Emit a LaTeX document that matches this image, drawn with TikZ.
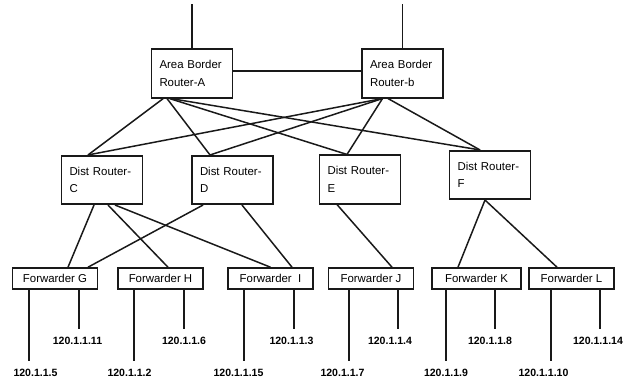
\documentclass[tikz,border=0pt]{standalone}
\usepackage{fontspec}
\setmainfont{Liberation Sans}
\usepackage{tikz}
\usetikzlibrary{positioning}

\begin{document}
\begin{tikzpicture}[
    link/.style={draw=black!90, line width=1.7pt},
    router/.style={draw=black!90, line width=1.8pt, minimum width=3.24cm, minimum height=1.94cm, text width=2.6cm, align=left, font=\fontsize{13}{20}\selectfont},
    fwd/.style={draw=black!90, line width=1.8pt, minimum width=3.4cm, minimum height=0.84cm, inner sep=1pt, font=\fontsize{13}{15}\selectfont},
    iplab/.style={below=8pt, inner sep=1pt, font=\fontsize{12}{14}\selectfont\bfseries}
]
    \useasboundingbox (0,0) rectangle (25,15.24);

    % Routers de borde
    \node[router] (abra) at (7.68,12.30) {Area Border\\Router-A};
    \node[router] (abrb) at (16.10,12.30) {Area Border\\Router-b};
    \coordinate[above=1.76cm of abra.north] (upa);
    \coordinate[above=1.76cm of abrb.north] (upb);
    \draw[link] (abra.north) -- (upa);
    \draw[link] (abrb.north) -- (upb);
    \draw[link] ([yshift=0.1cm]abra.east) -- ([yshift=0.1cm]abrb.west);

    % Routers de distribución
    \node[router] (distc) at (4.08,8.04) {Dist Router-\\C};
    \node[router] (distd) at (9.30,8.04) {Dist Router-\\D};
    \node[router] (diste) at (14.40,8.06) {Dist Router-\\E};
    \node[router] (distf) at (19.60,8.24) {Dist Router-\\F};

    \draw[link] ([xshift=-1.15cm]abra.south) -- ([xshift=-0.56cm]distc.north);
    \draw[link] ([xshift=-1.0cm]abra.south) -- ([xshift=-0.9cm]distd.north);
    \draw[link] ([xshift=-0.9cm]abra.south) -- ([xshift=-0.52cm]diste.north);
    \draw[link] ([xshift=-0.85cm]abra.south) -- ([xshift=-0.4cm]distf.north);
    \draw[link] ([xshift=-0.8cm]abrb.south) -- ([xshift=-0.56cm]distc.north);
    \draw[link] ([xshift=-0.8cm]abrb.south) -- ([xshift=-0.9cm]distd.north);
    \draw[link] ([xshift=-0.8cm]abrb.south) -- ([xshift=-0.52cm]diste.north);
    \draw[link] ([xshift=-0.58cm]abrb.south) -- ([xshift=-0.4cm]distf.north);

    % Forwarders
    \node[fwd] (fwdg) at (2.20,4.10) {Forwarder G};
    \node[fwd] (fwdh) at (6.42,4.10) {Forwarder H};
    \node[fwd] (fwdi) at (10.82,4.10) {Forwarder~~I};
    \node[fwd] (fwdj) at (14.84,4.10) {Forwarder J};
    \node[fwd, minimum width=3.56cm] (fwdk) at (19.06,4.10) {Forwarder K};
    \node[fwd] (fwdl) at (22.86,4.10) {Forwarder L};

    \draw[link] ([xshift=-0.32cm]distc.south) -- ([xshift=0.52cm]fwdg.north);
    \draw[link] ([xshift=0.24cm]distc.south) -- ([xshift=0.3cm]fwdh.north);
    \draw[link] ([xshift=0.52cm]distc.south) -- (fwdi.north);
    \draw[link] ([xshift=-1.18cm]distd.south) -- ([xshift=1.32cm]fwdg.north);
    \draw[link] ([xshift=0.38cm]distd.south) -- ([xshift=0.86cm]fwdi.north);
    \draw[link] ([xshift=-0.92cm]diste.south) -- ([xshift=0.84cm]fwdj.north);
    \draw[link] ([xshift=-0.2cm]distf.south) -- ([xshift=-0.74cm]fwdk.north);
    \draw[link] ([xshift=-0.2cm]distf.south) -- ([xshift=-0.58cm]fwdl.north);

    % Direcciones
    \draw[link] ([xshift=-1.04cm]fwdg.south) -- ++(0,-2.84) node[iplab, xshift=0.26cm] (ip5) {120.1.1.5};
    \draw[link] ([xshift=0.96cm]fwdg.south) -- ++(0,-1.56) node[iplab, xshift=-0.06cm] (ip11) {120.1.1.11};
    \draw[link] ([xshift=-1.06cm]fwdh.south) -- ++(0,-2.84) node[iplab, xshift=-0.18cm] (ip2) {120.1.1.2};
    \draw[link] ([xshift=0.94cm]fwdh.south) -- ++(0,-1.56) node[iplab] (ip6) {120.1.1.6};
    \draw[link] ([xshift=-1.06cm]fwdi.south) -- ++(0,-2.84) node[iplab, xshift=-0.22cm] (ip15) {120.1.1.15};
    \draw[link] ([xshift=0.94cm]fwdi.south) -- ++(0,-1.56) node[iplab, xshift=-0.1cm] (ip3) {120.1.1.3};
    \draw[link] ([xshift=-0.88cm]fwdj.south) -- ++(0,-2.84) node[iplab, xshift=-0.26cm] (ip7) {120.1.1.7};
    \draw[link] ([xshift=1.08cm]fwdj.south) -- ++(0,-1.56) node[iplab, xshift=-0.32cm] (ip4) {120.1.1.4};
    \draw[link] ([xshift=-1.22cm]fwdk.south) -- ++(0,-2.84) node[iplab] (ip9) {120.1.1.9};
    \draw[link] ([xshift=0.74cm]fwdk.south) -- ++(0,-1.56) node[iplab, xshift=-0.2cm] (ip8) {120.1.1.8};
    \draw[link] ([xshift=-0.82cm]fwdl.south) -- ++(0,-2.84) node[iplab, xshift=-0.3cm] (ip10) {120.1.1.10};
    \draw[link] ([xshift=1.14cm]fwdl.south) -- ++(0,-1.56) node[iplab, xshift=-0.08cm] (ip14) {120.1.1.14};
\end{tikzpicture}
\end{document}
